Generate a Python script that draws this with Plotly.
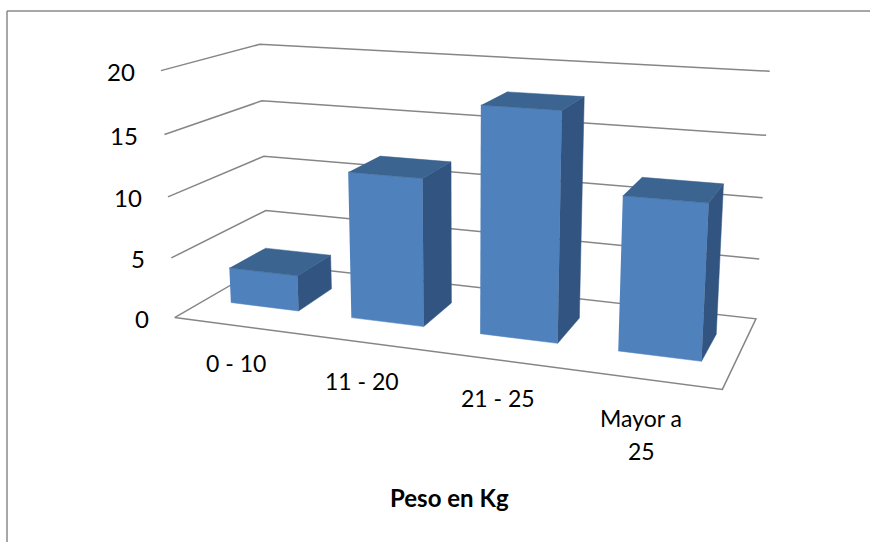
import numpy as np
import plotly.graph_objects as go

# Chart data
CATEGORIES = ["0 - 10", "11 - 20", "21 - 25", "Mayor a 25"]
VALUES = [3, 12, 18, 12]
TICKS = [0, 5, 10, 15, 20]
AXIS_TITLE = "Peso en Kg"
VALUE_MAX = 20

# Page and pseudo-3D box setup
W, H = 870, 542
BOX = np.array([1.4000, 0.5021, 0.6375])
EYE = np.array([1.1307, -3.0905, 0.8336])
TARGET = np.zeros(3)
FOCAL, PX0, PY0 = 1357.5, 464.9, 197.4
BAR_WIDTH = 0.57      # in category units
DEPTH_FRONT, DEPTH_BACK = 0.3095, 0.7024

FRONT, SIDE, TOP = "#4F81BD", "#325480", "#3C6491"
GRID = "#868686"
FONT = "Lato"
TEXT = "#000000"

# Screen anchors of the category labels; the last one wraps onto two lines
CATEGORY_LABELS = [
    ("0 - 10", 236, 363),
    ("11 - 20", 362, 381),
    ("21 - 25", 498, 398),
    ("Mayor a", 641, 418),
    ("25", 641, 451),
]


def to_screen(cat, depth, value):
    """Perspective projection of (category position, depth 0-1, value) to the page."""
    pos = (np.array([cat / len(CATEGORIES), depth, value / VALUE_MAX]) - 0.5) * BOX
    f = EYE - TARGET
    f = f / np.linalg.norm(f)
    s = np.cross([0.0, 0.0, 1.0], f)
    s = s / np.linalg.norm(s)
    u = np.cross(f, s)
    d = pos - EYE
    w = -(d @ f)
    return PX0 + FOCAL * (d @ s) / w, PY0 - FOCAL * (d @ u) / w


def polyline(points):
    xy = np.array([to_screen(*p) for p in points])
    return go.Scatter(x=xy[:, 0], y=xy[:, 1], mode="lines",
                      line=dict(color=GRID, width=1.5), hoverinfo="skip")


def face(points, color):
    xy = np.array([to_screen(*p) for p in points])
    return go.Scatter(x=xy[:, 0], y=xy[:, 1], mode="lines", fill="toself",
                      fillcolor=color, line=dict(color=color, width=0.5), hoverinfo="skip")


fig = go.Figure()
n = len(CATEGORIES)

# Floor outline, then one gridline per tick along the left and back walls
fig.add_trace(polyline([(0, 0, 0), (0, 1, 0), (n, 1, 0), (n, 0, 0), (0, 0, 0)]))
for t in TICKS[1:]:
    fig.add_trace(polyline([(0, 0, t), (0, 1, t), (n, 1, t)]))

# Bars: front, right side and top faces
for i, v in enumerate(VALUES):
    x0, x1 = i + 0.5 - BAR_WIDTH / 2, i + 0.5 + BAR_WIDTH / 2
    y0, y1 = DEPTH_FRONT, DEPTH_BACK
    fig.add_trace(face([(x0, y0, 0), (x1, y0, 0), (x1, y0, v), (x0, y0, v)], FRONT))
    fig.add_trace(face([(x1, y0, 0), (x1, y1, 0), (x1, y1, v), (x1, y0, v)], SIDE))
    fig.add_trace(face([(x0, y0, v), (x1, y0, v), (x1, y1, v), (x0, y1, v)], TOP))

annotations = []
for t in TICKS:
    x, y = to_screen(0, 0, t)
    annotations.append(dict(x=x, y=y, xshift=-24, yshift=-1, text=str(t), xanchor="right", showarrow=False,
                            font=dict(family=FONT, size=24, color=TEXT)))
for label, x, y in CATEGORY_LABELS:
    annotations.append(dict(x=x, y=y, text=label, showarrow=False,
                            font=dict(family=FONT, size=23, color=TEXT)))
annotations.append(dict(x=449, y=497, text=f"<b>{AXIS_TITLE}</b>", showarrow=False,
                        font=dict(family=FONT, size=24, color=TEXT)))

fig.update_layout(
    width=W, height=H, margin=dict(l=0, r=0, t=0, b=0), showlegend=False,
    paper_bgcolor="white", plot_bgcolor="white",
    xaxis=dict(visible=False, range=[0, W]),
    yaxis=dict(visible=False, range=[H, 0]),
    annotations=annotations,
    shapes=[
        dict(type="line", x0=7, x1=W, y0=11, y1=11, line=dict(color="#8a8a8a", width=1.5)),
        dict(type="line", x0=7, x1=7, y0=11, y1=H, line=dict(color="#8a8a8a", width=1.5)),
    ],
)
fig.write_html("out.html")
